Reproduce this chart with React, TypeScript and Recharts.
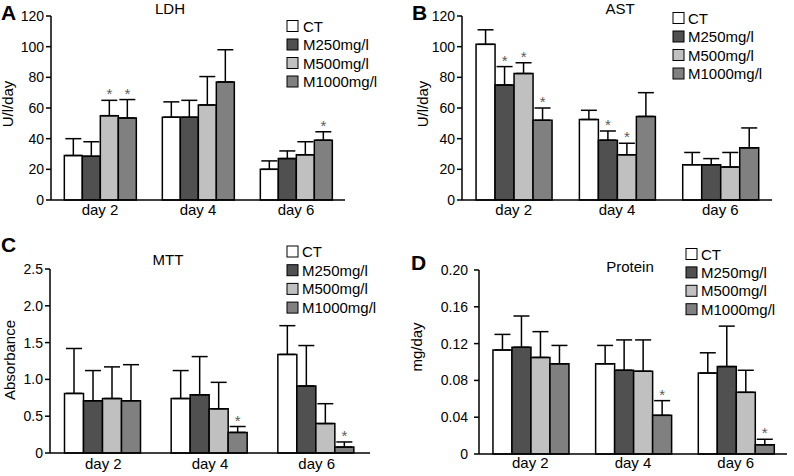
import React from "react";
import { BarChart, Bar, XAxis, YAxis, ErrorBar, LabelList } from "recharts";

const FONT = "'Liberation Sans', Arial, sans-serif";

const days = ["day 2", "day 4", "day 6"];
const seriesNames = ["CT", "M250mg/l", "M500mg/l", "M1000mg/l"];
const seriesColors = ["#ffffff", "#505050", "#c0c0c0", "#808080"];

// A: LDH (U/l/day) — rows: series, columns: days
const ldhMean = [[29, 54, 20], [28.5, 54, 27], [55, 62, 29.5], [53.5, 77, 39]];
const ldhUpper = [[40, 64, 25.5], [38, 65, 32], [65, 80.5, 38], [65.5, 98, 44.5]];
const ldhStar = [[0, 0, 0], [0, 0, 0], [1, 0, 0], [1, 0, 1]];
const ldhTicks = [0, 20, 40, 60, 80, 100, 120];
const ldhTickLabels = ["0", "20", "40", "60", "80", "100", "120"];

// B: AST (U/l/day)
const astMean = [[101.5, 52.5, 23], [75, 39, 23], [82.5, 29.5, 21.5], [52, 54.5, 34]];
const astUpper = [[111, 58.5, 31], [87, 45, 27], [89.5, 37, 31], [60, 70, 47]];
const astStar = [[0, 0, 0], [1, 1, 0], [1, 1, 0], [1, 0, 0]];
const astTicks = [0, 20, 40, 60, 80, 100, 120];
const astTickLabels = ["0", "20", "40", "60", "80", "100", "120"];

// C: MTT (Absorbance)
const mttMean = [[0.81, 0.74, 1.34], [0.71, 0.79, 0.91], [0.74, 0.6, 0.4], [0.71, 0.28, 0.08]];
const mttUpper = [[1.42, 1.12, 1.73], [1.12, 1.31, 1.46], [1.17, 0.96, 0.67], [1.2, 0.36, 0.15]];
const mttStar = [[0, 0, 0], [0, 0, 0], [0, 0, 0], [0, 1, 1]];
const mttTicks = [0, 0.5, 1, 1.5, 2, 2.5];
const mttTickLabels = ["0", "0.5", "1.0", "1.5", "2.0", "2.5"];

// D: Protein (mg/day)
const protMean = [[0.113, 0.098, 0.088], [0.116, 0.091, 0.095], [0.105, 0.09, 0.067], [0.098, 0.042, 0.01]];
const protUpper = [[0.13, 0.118, 0.11], [0.15, 0.124, 0.139], [0.133, 0.124, 0.091], [0.118, 0.058, 0.016]];
const protStar = [[0, 0, 0], [0, 0, 0], [0, 0, 0], [0, 1, 1]];
const protTicks = [0, 0.04, 0.08, 0.12, 0.16, 0.2];
const protTickLabels = ["0", "0.04", "0.08", "0.12", "0.16", "0.20"];

function buildRows(mean: number[][], upper: number[][], star: number[][]) {
  return days.map((d, i) => {
    const row: any = { day: d };
    for (let s = 0; s < seriesNames.length; s++) {
      row[`s${s}`] = mean[s][i];
      row[`e${s}`] = [0, upper[s][i] - mean[s][i]];
      row[`t${s}`] = star[s][i] ? "*" : "";
    }
    return row;
  });
}

function makeStar(mean: number[][], upper: number[][], s: number) {
  return (props: any) => {
    const vb = props.viewBox && props.viewBox.x !== undefined ? props.viewBox : props;
    const { x, y, width, height } = vb;
    const index = props.index;
    if (!props.value || index === undefined) return null;
    const m = mean[s][index];
    const u = upper[s][index];
    const h = Math.abs(height);
    const ppu = h / m;
    const top = Math.min(y, y + height);
    const ey = top - (u - m) * ppu;
    return (
      <text x={x + width / 2} y={ey - 1} textAnchor="middle" fontSize={15} fill="#5a5a5a" fontFamily={FONT}>
        *
      </text>
    );
  };
}

const axisStyle = { stroke: "#000", strokeWidth: 1.5 };

function Panel(props: {
  mean: number[][];
  upper: number[][];
  star: number[][];
  ticks: number[];
  tickLabels: string[];
  width: number;
  height: number;
  margin: any;
  yWidth: number;
  xHeight: number;
  edgeTicks: boolean;
  tickMargin: number;
  xTickMargin: number;
}) {
  const data = buildRows(props.mean, props.upper, props.star);
  const domMax = props.ticks[props.ticks.length - 1];
  return (
    <BarChart
      width={props.width}
      height={props.height}
      data={data}
      margin={props.margin}
      barGap={0}
      barCategoryGap="13.6%"
    >
      {props.edgeTicks && (
        <XAxis
          xAxisId="edge"
          type="number"
          domain={[0, 3]}
          allowDataOverflow
          ticks={[1, 2]}
          tickFormatter={() => ""}
          axisLine={false}
          tickLine={axisStyle}
          tickSize={5}
          height={0}
        />
      )}
      <XAxis
        dataKey="day"
        tickLine={false}
        tickSize={0}
        axisLine={axisStyle}
        height={props.xHeight}
        tickMargin={props.xTickMargin}
        tick={{ fill: "#000", fontSize: 15, fontFamily: FONT }}
      />
      <YAxis
        width={props.yWidth}
        domain={[0, domMax]}
        ticks={props.ticks}
        interval={0}
        tickFormatter={(v: any, i: number) => props.tickLabels[i]}
        axisLine={axisStyle}
        tickLine={axisStyle}
        tickSize={5}
        tickMargin={props.tickMargin}
        tick={{ fill: "#000", fontSize: 14, fontFamily: FONT }}
      />
      {seriesNames.map((name, s) => (
        <Bar
          key={name}
          dataKey={`s${s}`}
          name={name}
          fill={seriesColors[s]}
          stroke="#000"
          strokeWidth={1.5}
          isAnimationActive={false}
        >
          <ErrorBar dataKey={`e${s}`} width={8} stroke="#000" strokeWidth={1.5} direction="y" isAnimationActive={false} />
          <LabelList dataKey={`t${s}`} content={makeStar(props.mean, props.upper, s)} />
        </Bar>
      ))}
    </BarChart>
  );
}

function LegendBox(props: { x: number; y: number; textX: number; rowH: number }) {
  return (
    <g>
      {seriesNames.map((name, s) => {
        const cy = props.y + s * props.rowH;
        return (
          <g key={name}>
            <rect x={props.x} y={cy - 5.5} width={11} height={11} fill={seriesColors[s]} stroke="#000" strokeWidth={1} />
            <text x={props.textX} y={cy} dominantBaseline="central" fontSize={15} fontFamily={FONT} fill="#000">
              {name}
            </text>
          </g>
        );
      })}
    </g>
  );
}

export default function App() {
  return (
    <div style={{ position: "absolute", left: 0, top: 0, width: 794, height: 476, background: "#fff", overflow: "hidden" }}>
      <div style={{ position: "absolute", left: 0, top: 0 }}>
        <Panel mean={ldhMean} upper={ldhUpper} star={ldhStar} ticks={ldhTicks} tickLabels={ldhTickLabels}
          width={400} height={230} margin={{ top: 16, right: 55, left: 0, bottom: 0 }} yWidth={51} xHeight={30} edgeTicks={true} tickMargin={2} xTickMargin={4} />
      </div>
      <div style={{ position: "absolute", left: 400, top: 0 }}>
        <Panel mean={astMean} upper={astUpper} star={astStar} ticks={astTicks} tickLabels={astTickLabels}
          width={394} height={230} margin={{ top: 16, right: 22, left: 0, bottom: 0 }} yWidth={62} xHeight={30} edgeTicks={true} tickMargin={2} xTickMargin={4} />
      </div>
      <div style={{ position: "absolute", left: 0, top: 230 }}>
        <Panel mean={mttMean} upper={mttUpper} star={mttStar} ticks={mttTicks} tickLabels={mttTickLabels}
          width={400} height={246} margin={{ top: 39, right: 30, left: 0, bottom: 0 }} yWidth={50} xHeight={23} edgeTicks={true} tickMargin={2} xTickMargin={5} />
      </div>
      <div style={{ position: "absolute", left: 400, top: 230 }}>
        <Panel mean={protMean} upper={protUpper} star={protStar} ticks={protTicks} tickLabels={protTickLabels}
          width={394} height={246} margin={{ top: 40, right: 7, left: 0, bottom: 0 }} yWidth={79} xHeight={22} edgeTicks={false} tickMargin={6} xTickMargin={3} />
      </div>
      <svg width={794} height={476} style={{ position: "absolute", left: 0, top: 0, pointerEvents: "none" }}>
        <g fontFamily={FONT} fill="#000">
          <text x={1} y={20} fontSize={21} fontWeight="bold">A</text>
          <text x={412} y={20} fontSize={21} fontWeight="bold">B</text>
          <text x={1} y={252} fontSize={21} fontWeight="bold">C</text>
          <text x={411} y={270} fontSize={21} fontWeight="bold">D</text>

          <text x={170} y={14} fontSize={15} textAnchor="middle">LDH</text>
          <text x={620} y={14} fontSize={15} textAnchor="middle">AST</text>
          <text x={168} y={265} fontSize={15} textAnchor="middle">MTT</text>
          <text x={630} y={272} fontSize={15} textAnchor="middle">Protein</text>

          <text transform="translate(7,104) rotate(-90)" fontSize={15} textAnchor="middle" dominantBaseline="central">U/l/day</text>
          <text transform="translate(422,104) rotate(-90)" fontSize={15} textAnchor="middle" dominantBaseline="central">U/l/day</text>
          <text transform="translate(9,360) rotate(-90)" fontSize={15} textAnchor="middle" dominantBaseline="central">Absorbance</text>
          <text transform="translate(416,347) rotate(-90)" fontSize={15} textAnchor="middle" dominantBaseline="central">mg/day</text>
        </g>
        <LegendBox x={287} y={26} textX={303} rowH={18.5} />
        <LegendBox x={673} y={18} textX={688} rowH={18.5} />
        <LegendBox x={287} y={251.5} textX={302} rowH={18.7} />
        <LegendBox x={686} y={254} textX={701} rowH={18.4} />
      </svg>
    </div>
  );
}
